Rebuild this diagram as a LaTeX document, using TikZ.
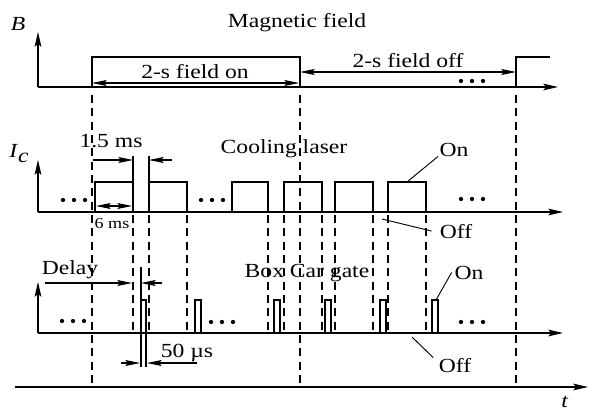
\documentclass[tikz,border=0pt]{standalone}
\usepackage{fontspec}
\setmainfont{Liberation Serif}[FakeStretch=1.18]
\usepackage{tikz}
\usetikzlibrary{arrows.meta}
\tikzset{
	axisline/.style ={line width=0.9pt, -{Stealth[length=11pt, width=5pt, inset=2pt]}},
	dimarrow/.style ={line width=0.8pt, -{Stealth[length=11pt, width=4.5pt, inset=2pt]}},
	dimboth/.style  ={line width=0.8pt, {Stealth[length=11pt, width=4.5pt, inset=2pt]}-{Stealth[length=11pt, width=4.5pt, inset=2pt]}},
	sigline/.style  ={line width=1.6pt},
	guide/.style    ={line width=0.8pt, dash pattern=on 6pt off 4pt},
	edgeline/.style ={line width=0.8pt},
	leader/.style   ={line width=0.7pt},
	lbl/.style      ={font=\fontsize{15pt}{18pt}\selectfont, inner sep=0pt, anchor=base},
	smalllbl/.style ={font=\fontsize{11.5pt}{13pt}\selectfont, inner sep=0pt, anchor=base},
}

\begin{document}
\begin{tikzpicture}[x=0.75pt, y=-0.75pt]
	\useasboundingbox (0,0) rectangle (589,414);
	% axes
	\draw[axisline] (38,87) -- (38,32);
	\draw[axisline] (38,87) -- (558,87);
	\draw[axisline] (38,212) -- (38,160);
	\draw[axisline] (38,212) -- (563,212);
	\draw[axisline] (38,333) -- (38,282);
	\draw[axisline] (38,333) -- (563,333);
	\draw[axisline] (15,387) -- (588,387);
	% time marks
	\foreach \x in {92,300,516}
		\draw[guide] (\x,95) -- (\x,387);
	\foreach \x in {133,149,187,268,284,322,335,373,388,426}
		\draw[guide] (\x,215) -- (\x,333);
	% magnetic field
	\draw[sigline] (38,87) -- (92,87) -- (92,57) -- (300,57) -- (300,87) -- (453,87);
	\draw[sigline] (486,87) -- (516,87) -- (516,57) -- (550,57);
	% cooling laser
	\draw[sigline] (90,212) -| (95,182) -| (133,212) -| (149,182) -| (187,212) -- (201,212);
	\draw[sigline] (224,212) -| (232,182) -| (268,212) -| (284,182) -| (322,212) -| (335,182)
		-| (373,212) -| (388,182) -| (426,212) -- (445,212);
	% box car gate
	\draw[sigline] (90,333) -| (141,300) -| (146,333) -| (195,300) -| (201,333) -- (209,333);
	\draw[sigline] (237,333) -| (274,300) -| (280,333) -| (325,300) -| (331,333) -| (380,300)
		-| (386,333) -| (432,300) -| (438,333) -- (452,333);
	% dots
	\foreach \x/\y in {472/81, 74/200, 212/200, 472/199, 73/321, 222/322, 472/322}
		\foreach \d in {-11,0,11}
			\fill (\x+\d,\y) circle[radius=1.6pt];
	% dimensions
	\draw[dimboth] (92,83) -- (299,83);
	\draw[dimboth] (300,72) -- (516,72);
	\draw[edgeline] (133,156) -- (133,182);
	\draw[edgeline] (149,156) -- (149,182);
	\draw[dimarrow] (93,160) -- (133,160);
	\draw[dimarrow] (172,160) -- (149,160);
	\draw[dimboth] (96,206) -- (132,206);
	\draw[edgeline] (141,267) -- (141,367);
	\draw[edgeline] (146,333) -- (146,367);
	\draw[dimarrow] (45,283) -- (132,283);
	\draw[dimarrow] (162,283) -- (141,283);
	\draw[dimarrow] (121,363) -- (140,363);
	\draw[dimarrow] (197,363) -- (147,363);
	% labels
	\node[lbl] (bname) at (18,31) {\textit{B}};
	\node[lbl] (btitle) at (297,27) {Magnetic field};
	\node[lbl] (fon) at (195,78) {2-s field on};
	\node[lbl] (foff) at (408,67) {2-s field off};
	\node[lbl] (icname) at (19,157) {\textit{I}\raisebox{-3.8pt}{\textit{c}}};
	\node[lbl] (onefive) at (111,147) {1.5 ms};
	\node[lbl] (ctitle) at (284,153) {Cooling laser};
	\node[lbl] (onI) at (454,156) {On};
	\node[lbl] (offI) at (456,238) {Off};
	\node[smalllbl] (six) at (112,228) {6 ms};
	\node[lbl] (delay) at (70,274) {Delay};
	\node[lbl] (gtitle) at (307,277) {Box Car gate};
	\node[lbl] (onB) at (469,279) {On};
	\node[lbl] (offB) at (455,372) {Off};
	\node[lbl] (fifty) at (187,357) {50 µs};
	\node[lbl] (tname) at (565,407) {\textit{t}};
	% leaders
	\coordinate (onItip) at (407,182);
	\coordinate (offItip) at (382,219);
	\coordinate (onBtip) at (436,300);
	\coordinate (offBtip) at (412,337);
	\draw[leader] ([xshift=-1pt]onI.south west) -- (onItip);
	\draw[leader] (offItip) -- ([xshift=-6pt]offI.west);
	\draw[leader] ([xshift=-2pt]onB.west) -- (onBtip);
	\draw[leader] (offBtip) -- ([xshift=-4pt]offB.north west);
\end{tikzpicture}
\end{document}
